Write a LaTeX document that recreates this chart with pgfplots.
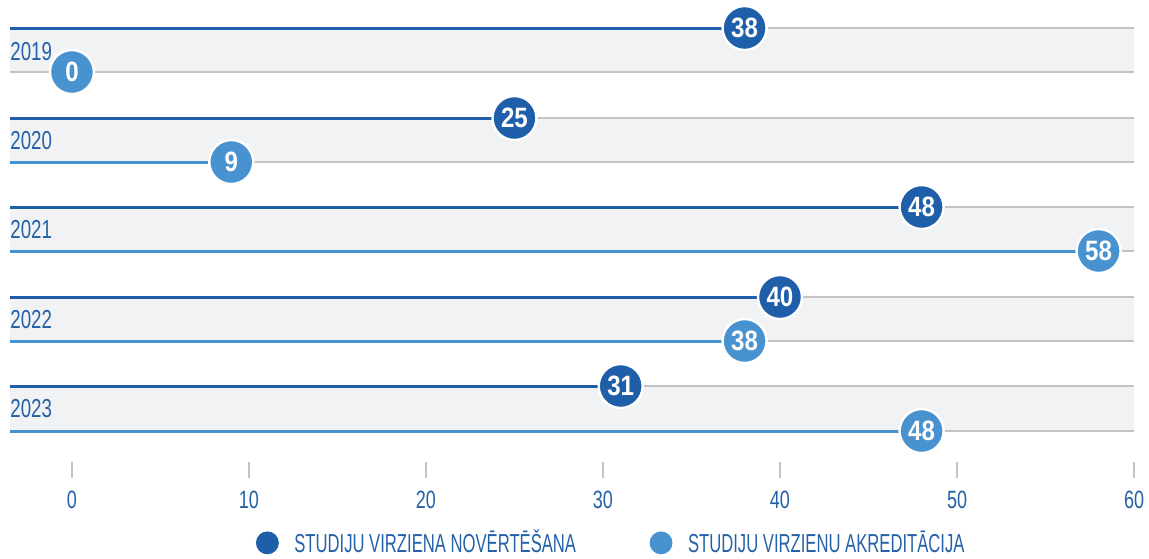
\documentclass[border=0pt]{standalone}
\usepackage{fontspec}
\setmainfont{Liberation Sans}[FakeStretch=0.72]
\newfontfamily\legfont{Liberation Sans}[FakeStretch=0.64]
\newfontfamily\numfont{Liberation Sans}[FakeStretch=0.86]
\usepackage{pgfplots}
\pgfplotsset{compat=1.18}
\definecolor{dblue}{HTML}{1F5FAA}
\definecolor{lblue}{HTML}{4892D0}
\definecolor{txtblue}{HTML}{2461A8}
\definecolor{band}{HTML}{F1F2F4}
\definecolor{gline}{HTML}{C3C3C3}
\begin{document}
\begin{tikzpicture}
\useasboundingbox (-5pt,0pt) rectangle (569.5pt,-279pt);
\begin{axis}[
  at={(0,0)}, anchor=north west,
  scale only axis, width=562pt, height=235pt,
  xmin=-3.5, xmax=60, ymin=0, ymax=470, y dir=reverse,
  clip=false,
  axis line style={draw=none},
  ytick=\empty,
  xtick={0,10,...,60}, xtick pos=left,
  tick align=center, major tick length=8pt,
  major tick style={gline, line width=1.25pt},
  xticklabel style={font=\fontsize{12.5}{14}\selectfont, text=txtblue, yshift=-3pt},
  /pgf/number format/assume math mode=true,
  legend columns=2,
  legend style={draw=none, fill=none, at={(axis description cs:0.2135,-0.155)}, anchor=west,
    font=\legfont\fontsize{13}{15}\selectfont, text=txtblue,
    /tikz/every even column/.style={column sep=35pt}},
  legend cell align=left,
]
% background bands
\fill[band] (axis cs:-3.5,28) rectangle (axis cs:60,72);
\fill[band] (axis cs:-3.5,118) rectangle (axis cs:60,162);
\fill[band] (axis cs:-3.5,207) rectangle (axis cs:60,251);
\fill[band] (axis cs:-3.5,297) rectangle (axis cs:60,341);
\fill[band] (axis cs:-3.5,386) rectangle (axis cs:60,431);
% gray guide lines
\foreach \yy in {28,72,118,162,207,251,297,341,386,431}{
  \edef\tmp{\noexpand\draw[gline, line width=1.3pt] (axis cs:-3.5,\yy) -- (axis cs:60,\yy);}\tmp
}
% dark series lines
\addplot[dblue, line width=1.5pt, forget plot] coordinates {(-3.5,28) (38,28)};
\addplot[dblue, line width=1.5pt, forget plot] coordinates {(-3.5,118) (25,118)};
\addplot[dblue, line width=1.5pt, forget plot] coordinates {(-3.5,207) (48,207)};
\addplot[dblue, line width=1.5pt, forget plot] coordinates {(-3.5,297) (40,297)};
\addplot[dblue, line width=1.5pt, forget plot] coordinates {(-3.5,386) (31,386)};
% light series lines
\addplot[lblue, line width=1.5pt, forget plot] coordinates {(-3.5,162) (9,162)};
\addplot[lblue, line width=1.5pt, forget plot] coordinates {(-3.5,251) (58,251)};
\addplot[lblue, line width=1.5pt, forget plot] coordinates {(-3.5,341) (38,341)};
\addplot[lblue, line width=1.5pt, forget plot] coordinates {(-3.5,431) (48,431)};
% circles
\addplot[only marks, mark=*, mark size=11pt, forget plot,
  mark options={fill=dblue, draw=white, line width=1.2pt},
  point meta=x, nodes near coords, nodes near coords align=center,
  every node near coord/.append style={anchor=center, text=white, font=\numfont\bfseries\fontsize{14}{16}\selectfont}]
  coordinates {(38,28) (25,118) (48,207) (40,297) (31,386)};
\addplot[only marks, mark=*, mark size=11pt, forget plot,
  mark options={fill=lblue, draw=white, line width=1.2pt},
  point meta=x, nodes near coords, nodes near coords align=center,
  every node near coord/.append style={anchor=center, text=white, font=\numfont\bfseries\fontsize{14}{16}\selectfont}]
  coordinates {(0,72) (9,162) (58,251) (38,341) (48,431)};
% year labels
\node[anchor=west, inner sep=0, text=txtblue, font=\fontsize{13}{15}\selectfont] at (axis cs:-3.5,52) {2019};
\node[anchor=west, inner sep=0, text=txtblue, font=\fontsize{13}{15}\selectfont] at (axis cs:-3.5,141) {2020};
\node[anchor=west, inner sep=0, text=txtblue, font=\fontsize{13}{15}\selectfont] at (axis cs:-3.5,230) {2021};
\node[anchor=west, inner sep=0, text=txtblue, font=\fontsize{13}{15}\selectfont] at (axis cs:-3.5,320) {2022};
\node[anchor=west, inner sep=0, text=txtblue, font=\fontsize{13}{15}\selectfont] at (axis cs:-3.5,409) {2023};
% legend
\addlegendimage{only marks, mark=*, mark size=5.5pt, dblue, mark options={fill=dblue, draw=dblue}}
\addlegendentry{\hspace{6pt}STUDIJU VIRZIENA NOVĒRTĒŠANA}
\addlegendimage{only marks, mark=*, mark size=5.5pt, lblue, mark options={fill=lblue, draw=lblue}}
\addlegendentry{\hspace{6pt}STUDIJU VIRZIENU AKREDITĀCIJA}
\end{axis}
\end{tikzpicture}
\end{document}
